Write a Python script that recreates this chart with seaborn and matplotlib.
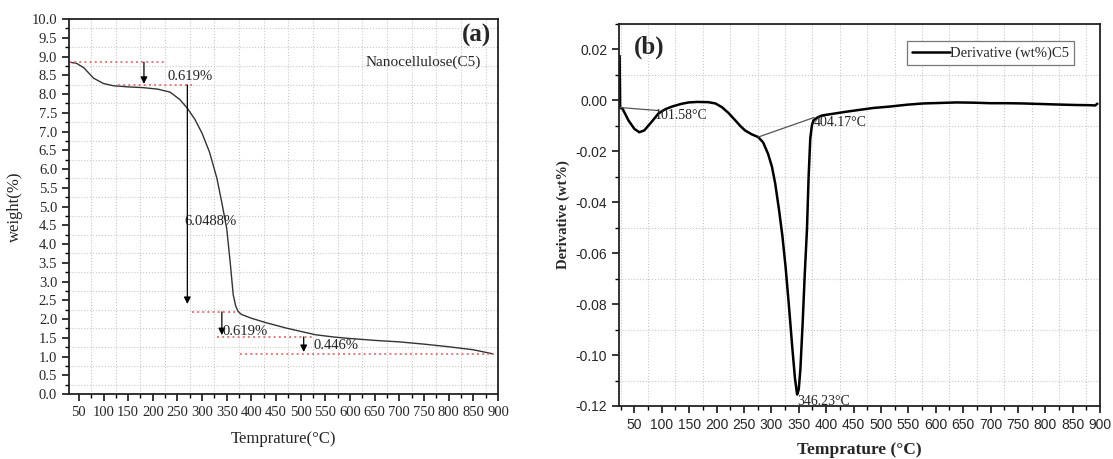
import matplotlib
matplotlib.use("Agg")
import matplotlib.pyplot as plt
from matplotlib.ticker import MultipleLocator, FormatStrFormatter
import seaborn as sns
import pandas as pd

# TGA curve (a) - weight vs temperature
tga_temp = [30, 45, 60, 80, 100, 120, 150, 180, 210, 235, 255, 270, 285, 300, 315, 330,
            340, 350, 357, 363, 368, 373, 380, 400, 430, 470, 500, 530, 567, 600, 650,
            700, 750, 800, 850, 890]
tga_weight = [8.85, 8.82, 8.7, 8.42, 8.28, 8.22, 8.19, 8.17, 8.13, 8.05, 7.85, 7.62, 7.33,
              6.95, 6.45, 5.75, 5.1, 4.4, 3.5, 2.65, 2.35, 2.2, 2.12, 2.02, 1.9, 1.76, 1.67,
              1.58, 1.52, 1.48, 1.43, 1.39, 1.33, 1.26, 1.18, 1.07]

# step levels (red dotted) and their spans
step_levels = [8.85, 8.24, 2.19, 1.52, 1.07]
step_start = [30, 130, 280, 330, 377]
step_end = [229, 280, 373, 526, 892]

# arrows: x, from, to
arrow_x = [182, 270, 340, 506]
arrow_from = [8.85, 8.24, 2.19, 1.52]
arrow_to = [8.27, 2.4, 1.57, 1.12]
loss_labels = ["0.619%", "6.0488%", "0.619%", "0.446%"]
loss_x = [229, 265, 341, 526]
loss_y = [8.48, 4.6, 1.68, 1.3]

# DTG curve (b)
dtg_temp = [23, 24, 28, 39, 50, 59, 68, 76, 85, 94, 106, 119, 135, 149, 165, 185, 198, 210,
            222, 234, 244, 252, 264, 276, 285, 294, 301, 307, 314, 320, 326, 332, 338, 343,
            347, 350, 353, 357, 361, 365, 368, 371, 374, 377, 385, 393, 405, 417, 435, 455,
            485, 517, 547, 577, 608, 638, 670, 700, 730, 760, 790, 820, 855, 885, 891, 895]
dtg_value = [0.0175, -0.003, -0.0031, -0.0078, -0.0112, -0.0125, -0.0118, -0.0098, -0.0075,
             -0.0051, -0.0035, -0.0024, -0.0014, -0.0008, -0.0006, -0.0007, -0.0012, -0.0027,
             -0.005, -0.0078, -0.0102, -0.0118, -0.0133, -0.0144, -0.0165, -0.021, -0.026,
             -0.0326, -0.043, -0.053, -0.0655, -0.0805, -0.0965, -0.109, -0.1155, -0.1135,
             -0.1055, -0.088, -0.068, -0.0506, -0.03, -0.015, -0.0098, -0.0078, -0.0066,
             -0.0059, -0.0055, -0.0051, -0.0045, -0.0039, -0.003, -0.0024, -0.0017, -0.0012,
             -0.001, -0.0008, -0.0009, -0.0011, -0.0011, -0.0012, -0.0014, -0.0016, -0.0018,
             -0.0019, -0.002, -0.0013]

# tangent baselines in (b)
base1_x = [24, 94]
base1_y = [-0.0028, -0.004]
base2_x = [276, 378]
base2_y = [-0.0144, -0.0067]
peak_labels = ["101.58°C", "404.17°C", "346.23°C"]
peak_x = [88, 378, 347]
peak_y = [-0.006, -0.0086, -0.1184]

sns.set_theme(style="ticks")
plt.rcParams['font.family'] = ['Liberation Serif', 'DejaVu Serif']
plt.rcParams['mathtext.default'] = 'regular'

fig = plt.figure(figsize=(11.13, 4.59), dpi=100)
ax1 = fig.add_axes([0.062, 0.1416, 0.3854, 0.817])
ax2 = fig.add_axes([0.5562, 0.1155, 0.4322, 0.8322])

#%% panel (a)
df_tga = pd.DataFrame({'T': tga_temp, 'w': tga_weight})
sns.lineplot(data=df_tga, x='T', y='w', ax=ax1, color='#333333', linewidth=1.0,
             estimator=None, sort=False)

for lv, xs, xe in zip(step_levels, step_start, step_end):
    ax1.hlines(y=lv, xmin=xs, xmax=xe, colors='#e07c7c', linestyles=':', linewidth=1.4)

for xa, y0, y1 in zip(arrow_x, arrow_from, arrow_to):
    ax1.annotate('', xy=(xa, y1), xytext=(xa, y0),
                 arrowprops=dict(arrowstyle='-|>', color='black', lw=0.9,
                                 mutation_scale=10, shrinkA=0, shrinkB=0))

for txt, xt, yt in zip(loss_labels, loss_x, loss_y):
    ax1.text(xt, yt, txt, fontsize=10.5, va='center', ha='left', color='#222222')

ax1.text(0.985, 0.955, '(a)', transform=ax1.transAxes, fontsize=18, fontweight='bold',
         ha='right', va='center')
ax1.text(0.825, 0.885, 'Nanocellulose(C5)', transform=ax1.transAxes, fontsize=11,
         ha='center', va='center')

ax1.set_xlim(30, 900)
ax1.set_ylim(0, 10)
ax1.xaxis.set_minor_locator(MultipleLocator(25))
ax1.yaxis.set_major_locator(MultipleLocator(0.5))
ax1.yaxis.set_minor_locator(MultipleLocator(0.25))
ax1.yaxis.set_major_formatter(FormatStrFormatter('%.1f'))
ax1.set_xticks(list(range(50, 901, 50)))
ax1.set_xlabel('Temprature(°C)', fontsize=12, labelpad=9)
ax1.set_ylabel('weight(%)', fontsize=12, labelpad=6)

#%% panel (b)
df_dtg = pd.DataFrame({'T': dtg_temp, 'v': dtg_value})
sns.lineplot(data=df_dtg, x='T', y='v', ax=ax2, color='black', linewidth=1.8,
             estimator=None, sort=False, label='Derivative (wt%)C5')
ax2.plot(base1_x, base1_y, color='#555555', linewidth=0.9)
ax2.plot(base2_x, base2_y, color='#555555', linewidth=0.9)

for txt, xt, yt in zip(peak_labels, peak_x, peak_y):
    ax2.text(xt, yt, txt, fontsize=10, va='center', ha='left', color='#222222')

ax2.text(0.03, 0.94, '(b)', transform=ax2.transAxes, fontsize=18, fontweight='bold',
         ha='left', va='center')

ax2.set_xlim(22, 900)
ax2.set_ylim(-0.12, 0.03)
ax2.set_xticks(list(range(50, 901, 50)))
ax2.xaxis.set_minor_locator(MultipleLocator(25))
ax2.yaxis.set_major_locator(MultipleLocator(0.02))
ax2.yaxis.set_minor_locator(MultipleLocator(0.01))
ax2.yaxis.set_major_formatter(FormatStrFormatter('%.2f'))
ax2.set_xlabel('Temprature (°C)', fontsize=12.5, fontweight='bold', labelpad=7)
ax2.set_ylabel('Derivative (wt%)', fontsize=10.5, fontweight='bold', labelpad=4)
for lab in ax2.get_xticklabels() + ax2.get_yticklabels():
    lab.set_family(['Liberation Sans', 'DejaVu Sans'])

leg = ax2.legend(loc='upper right', bbox_to_anchor=(0.946, 0.955), borderaxespad=0,
                 fancybox=False, framealpha=1, edgecolor='#777777', fontsize=10.5,
                 handlelength=2.6, handletextpad=0.0, borderpad=0.35)
leg.get_frame().set_linewidth(0.9)

for ax in (ax1, ax2):
    ax.grid(visible=False, which='major')
    ax.grid(visible=True, which='minor', linestyle=':', color='#c8c8c8', linewidth=0.8)
    ax.tick_params(which='major', direction='out', length=5, width=1.1, color='black')
    ax.tick_params(which='minor', direction='out', length=3, width=1.0, color='black')
    for sp in ax.spines.values():
        sp.set_visible(True)
        sp.set_linewidth(1.3)
        sp.set_color('#222222')

ax1.tick_params(which='major', labelsize=10.5)
ax2.tick_params(which='major', labelsize=10)

plt.savefig('out.png', dpi=100)
